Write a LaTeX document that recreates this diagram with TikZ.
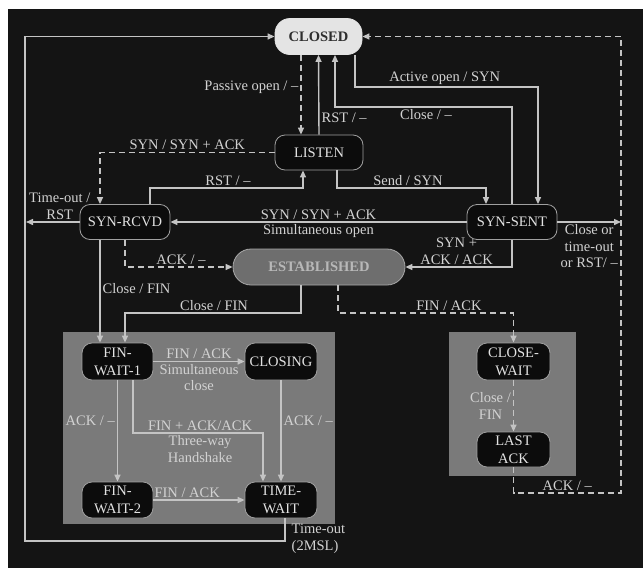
\documentclass[tikz,border=0pt]{standalone}
\usepackage{fontspec}
\setmainfont{Liberation Serif}
\usetikzlibrary{arrows.meta}
\definecolor{bgdark}{HTML}{141414}
\definecolor{panelgray}{HTML}{7A7A7A}
\definecolor{linegray}{HTML}{C4C4C4}
\definecolor{labelgray}{HTML}{D2D2D2}
\definecolor{statefill}{HTML}{0C0C0C}
\definecolor{stateedge}{HTML}{A0A0A0}
\definecolor{statetext}{HTML}{E2E2E2}
\definecolor{closedfill}{HTML}{E4E4E4}
\definecolor{closedtext}{HTML}{2E2E2E}
\definecolor{estfill}{HTML}{6E6E6E}
\definecolor{estedge}{HTML}{A8A8A8}
\definecolor{esttext}{HTML}{B8B8B8}
\newcommand\diagfont{\fontsize{14.5}{18}\selectfont}
\newcommand\labelfont{\fontsize{14.5}{16.5}\selectfont}
\begin{document}
\begin{tikzpicture}[
    x=1pt, y=-1pt,
    statenode/.style={rectangle, rounded corners=10pt, draw=stateedge, fill=statefill, line width=0.8pt, text=statetext, minimum width=72pt, minimum height=37pt, inner sep=1pt, align=center, font=\diagfont},
    flow/.style={draw=linegray, line width=1.4pt, -{Triangle[length=7pt, width=6pt]}},
    dashflow/.style={flow, dash pattern=on 6pt off 4pt},
    lbl/.style={text=labelgray, inner sep=2pt, align=center, font=\labelfont}
]
    % Frame and panels
    \useasboundingbox (0,0) rectangle (643,568);
    \fill[white] (0,0) rectangle (643,568);
    \fill[bgdark] (8,9) rectangle (643,568);
    \fill[panelgray] (63,332) rectangle (335,524);
    \fill[panelgray] (449,332) rectangle (576,476);

    % Nodes
    \node[statenode, fill=closedfill, draw=closedfill, text=closedtext, font=\bfseries\diagfont, minimum width=87pt, minimum height=36pt, rounded corners=15pt] (closed) at (318.5,36.5) {CLOSED};
    \node[statenode, minimum width=88pt, minimum height=35pt] (listen) at (319,152.5) {LISTEN};
    \node[statenode, minimum width=90pt, minimum height=35pt] (synrcvd) at (125,222) {SYN-RCVD};
    \node[statenode, minimum width=90pt, minimum height=35pt] (synsent) at (512,222) {SYN-SENT};
    \node[statenode, fill=estfill, draw=estedge, text=esttext, font=\bfseries\diagfont, minimum width=172pt, minimum height=36pt, rounded corners=18pt] (established) at (319,267) {ESTABLISHED};
    \node[statenode, minimum width=71pt] (finwait1) at (117.5,361.5) {FIN-\\WAIT-1};
    \node[statenode] (closing) at (281,361.5) {CLOSING};
    \node[statenode, minimum width=71pt, minimum height=36pt] (finwait2) at (117.5,500) {FIN-\\WAIT-2};
    \node[statenode, minimum height=36pt] (timewait) at (281,500) {TIME-\\WAIT};
    \node[statenode, minimum width=73pt] (closewait) at (513.5,361.5) {CLOSE-\\WAIT};
    \node[statenode, minimum width=73pt, minimum height=35pt] (lastack) at (513.5,449.5) {LAST\\ACK};
    \coordinate (tleft) at (26,222);
    \coordinate (cright) at (621,222);

    % Edges with labels
    \draw[dashflow] (closed.south -| 301,0) -- node[lbl, left, pos=0.4] {Passive open / –} (listen.north -| 301,0);
    \draw[flow] (listen.north) -- node[lbl, right, pos=0.21] {RST / –} (closed.south);
    \draw[flow] (synsent.north) |- node[lbl, below, pos=0.743] {Close / –} (335,107) -- (closed.south -| 335,0);
    \draw[flow] (closed.south -| 355,0) |- node[lbl, above, pos=0.745] {Active open / SYN} (538,87) -- (synsent.north -| 538,0);
    \draw[flow] (listen.south -| 337,0) |- node[lbl, above, pos=0.738] {Send / SYN} (486,188) -- (synsent.north -| 486,0);
    \draw[dashflow] (listen.west) -| node[lbl, above, pos=0.25] {SYN / SYN + ACK} (synrcvd.north -| 100,0);
    \draw[flow] (synrcvd.north -| 150,0) |- node[lbl, above, pos=0.755] {RST / –} (303,188) -- (listen.south -| 303,0);
    \draw[flow] (synrcvd.west) -- node[lbl, above, pos=0.37] {Time-out /\\RST} (tleft);
    \draw[flow] (synsent.west) -- node[lbl, above] {SYN / SYN + ACK} node[lbl, below] {Simultaneous open} (synrcvd.east);
    \draw[dashflow] (synrcvd.south) |- node[lbl, above, pos=0.76] {ACK / –} (established.west);
    \draw[flow] (synsent.south) |- node[lbl, above, pos=0.76] {SYN +\\ACK / ACK} (established.east);
    \draw[flow] (synrcvd.south -| 100,0) -- node[lbl, right, pos=0.47] {Close / FIN} (finwait1.north -| 100,0);
    \draw[flow] (established.south -| 301,0) |- node[lbl, above, pos=0.747] {Close / FIN} (125,313) -- (finwait1.north -| 125,0);
    \draw[dashflow] (established.south -| 338,0) -- (338,313) -| node[lbl, above, pos=0.316] {FIN / ACK} (closewait.north);
    \draw[flow] (synsent.east) -- node[lbl, below] {Close or\\time-out\\or RST/ –} (cright);
    \draw[dashflow] (lastack.south) |- node[lbl, above, pos=0.75] {ACK / –} (621,493) |- (closed.east);
    \draw[flow] (timewait.south -| 285,0) |- node[lbl, right, pos=0.45, xshift=4pt, align=left] {Time-out\\(2MSL)} (25,541) |- (closed.west);

    % Closing edges
    \draw[flow] (finwait1.east) -- node[lbl, above] {FIN / ACK} node[lbl, below] {Simultaneous\\close} (closing.west);
    \draw[flow] (finwait1.south) -- node[lbl, left, pos=0.4] {ACK / –} (finwait2.north);
    \draw[flow] (finwait1.south -| 133,0) |- node[lbl, above, pos=0.758] {FIN + ACK/ACK} node[lbl, below, pos=0.758] {Three-way\\Handshake} (263,433) -- (timewait.north -| 263,0);
    \draw[flow] (closing.south) -- node[lbl, right, pos=0.4] {ACK / –} (timewait.north);
    \draw[flow] (finwait2.east) -- node[lbl, above, pos=0.37] {FIN / ACK} (timewait.west);
    \draw[dashflow] (closewait.south) -- node[lbl, left] {Close /\\FIN} (lastack.north);
\end{tikzpicture}
\end{document}
